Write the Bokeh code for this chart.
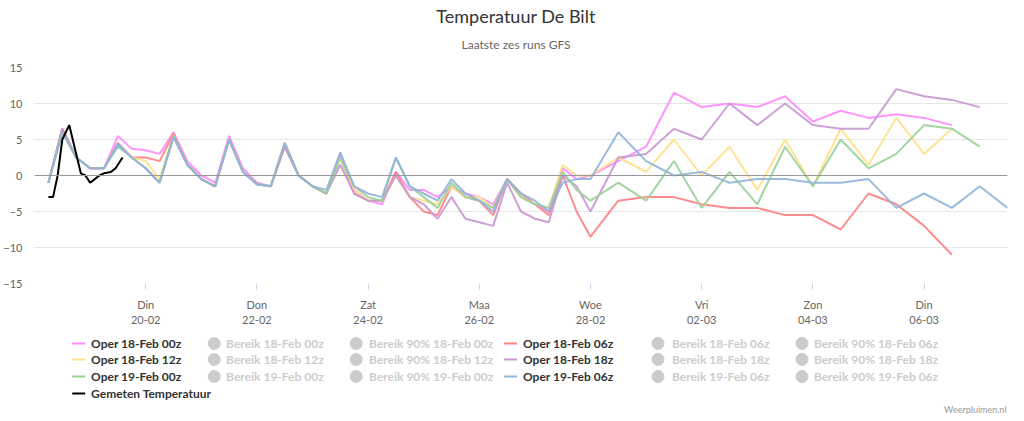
from bokeh.plotting import figure
from bokeh.layouts import column
from bokeh.models import Span, FixedTicker
from bokeh.core.properties import value
from bokeh.embed import file_html
from bokeh.resources import INLINE

# hours since 18-Feb 00:00
t_early = list(range(6, 240, 6))
t_late = list(range(240, 432, 12))

early = {
 "pink":   [-1,6.5,2.5, 1,1,5.5,3.7, 3.5,3,6,2, 0,-1,5.5,1, -1,-1.5,4.5,0, -1.5,-2.5,3,-2, -3.5,-4,0.5,-2, -2,-3,-1.5,-2.5, -3,-4,-0.5,-3, -4,-5,1,-0.5],
 "red":    [-1,6.5,2.5, 1,1,4.5,2.5, 2.5,2,5.8,1.5, -0.5,-1.5,5,0.5, -1.2,-1.5,4,0, -1.5,-2.5,2.5,-2.5, -3.5,-3.5,0.5,-3, -5,-5.5,-1.5,-3, -3.5,-5.5,-0.5,-2.5, -4,-5.5,0,-5],
 "yellow": [-1,6,2.5, 1,1,4.5,2.5, 2,-0.5,5.5,1.5, -0.5,-1.5,5,0.5, -1.2,-1.5,4.5,0, -1.5,-2.5,2.5,-2, -3.5,-3.5,0,-3, -3.5,-4,-1.5,-3, -3,-4.5,-0.5,-3, -4,-4.5,1.5,0],
 "purple": [-1,6.5,2.5, 1,1,4.5,2.5, 1,-1,5.5,1.5, -0.5,-1.5,5,0.5, -1.2,-1.5,4,0, -1.5,-2.5,1.5,-2.5, -3.5,-3.5,0,-3, -4,-6,-3,-6, -6.5,-7,-1,-5, -6,-6.5,0,-1.5],
 "green":  [-1,6,2.5, 1,1,4,2.5, 1,-1,5.5,1.5, -0.5,-1.5,5,0.5, -1.2,-1.5,4.5,0, -1.5,-2.5,2.5,-1.5, -3,-3.5,2.5,-1.5, -3,-4.5,-1,-3, -3.5,-4.5,-0.5,-3, -4,-4.5,0.5,-2],
 "blue":   [-1,6,2.5, 1,1,4.3,2.5, 1,-1,5.3,1.5, -0.5,-1.5,5,0.5, -1.2,-1.5,4.5,0, -1.5,-2,3.2,-1.5, -2.5,-3,2.5,-1.5, -2.5,-3.5,-0.5,-2.5, -3.5,-5,-0.5,-2.5, -3.5,-5,-1,-0.5],
}
late = {
 "pink":   [0,2,4,11.5,9.5,10,9.5,11,7.5,9,8,8.5,8,7],
 "red":    [-8.5,-3.5,-3,-3,-4,-4.5,-4.5,-5.5,-5.5,-7.5,-2.5,-4,-7,-11],
 "yellow": [0,2.5,0.5,5,0,4,-2,5,-1.5,6.5,1.5,8,3,6.5],
 "purple": [-5,2.5,3,6.5,5,10,7,10,7,6.5,6.5,12,11,10.5,9.5],
 "green":  [-3.5,-1,-3.5,2,-4.5,0.5,-4,4,-1.5,5,1,3,7,6.5,4],
 "blue":   [-0.5,6,2,0,0.5,-1,-0.5,-0.5,-1,-1,-0.5,-4.5,-2.5,-4.5,-1.5,-4.5],
}
colors = {"pink": "#ff88ff", "red": "#ff8080", "yellow": "#ffe08a",
          "purple": "#c896d2", "green": "#98d098", "blue": "#90b4dc"}

t_meas = [6, 8, 10, 12, 15, 18, 20, 22, 24, 26, 28, 30, 33, 35, 38]
T_meas = [-3, -3, 0, 5, 7, 3, 0.3, 0, -1, -0.5, 0, 0.3, 0.5, 1, 2.5]

tick_hours = [48, 96, 144, 192, 240, 288, 336, 384]
tick_labels = ["Din\n20-02", "Don\n22-02", "Zat\n24-02", "Maa\n26-02",
               "Woe\n28-02", "Vri\n02-03", "Zon\n04-03", "Din\n06-03"]

FONT = "Lato"
L, R = 27, 1007

def blank(height):
    f = figure(width=1008, height=height, x_range=(L, R), y_range=(height, 0),
               output_backend="svg", toolbar_location=None,
               min_border_left=L, min_border_right=1008 - R, min_border_top=0, min_border_bottom=0)
    f.axis.visible = False; f.grid.visible = False; f.outline_line_color = None
    return f

h = blank(58)
h.text(x=[512], y=[15], text=["Temperatuur De Bilt"], text_align="center", text_baseline="middle",
       text_font=value(FONT), text_font_size="18px", text_color="#333333")
h.text(x=[512], y=[44], text=["Laatste zes runs GFS"], text_align="center", text_baseline="middle",
       text_font=value(FONT), text_font_size="12px", text_color="#666666")

p = figure(width=1008, height=273, x_range=(0, 420), y_range=(-15, 15),
           output_backend="svg", toolbar_location=None,
           min_border_left=L, min_border_right=1008 - R, min_border_top=9, min_border_bottom=48)
p.outline_line_color = None
p.xaxis.ticker = FixedTicker(ticks=tick_hours)
p.xaxis.major_label_overrides = {k: v for k, v in zip(tick_hours, tick_labels)}
p.yaxis.ticker = FixedTicker(ticks=[-15, -10, -5, 0, 5, 10, 15])
for ax in (p.xaxis, p.yaxis):
    ax.axis_line_color = None
    ax.major_label_text_font = FONT
    ax.major_label_text_font_size = "11px"
    ax.major_label_text_color = "#666666"
    ax.minor_tick_line_color = None
p.yaxis.major_tick_line_color = None
p.yaxis.major_label_standoff = 6
p.xaxis.major_tick_line_color = "#ccd6eb"
p.xaxis.major_tick_out = 6
p.xaxis.major_tick_in = 0
p.xaxis.major_label_standoff = 8
p.xgrid.visible = False
p.ygrid.grid_line_color = "#e6e6e6"
p.add_layout(Span(location=0, dimension="width", line_color="#999999", line_width=1))

for k in ["pink", "red", "yellow", "purple", "green", "blue"]:
    xs = t_early + t_late[:len(late[k])]
    ys = early[k] + late[k]
    p.line(xs, ys, line_color=colors[k], line_width=2, line_alpha=0.9)
p.line(t_meas, T_meas, line_color="black", line_width=2)

lg = blank(83)
rows = [12, 28, 45, 62]
col_line = [65, 500]
col_grey = [(208, 220), (351, 364), (655, 669), (800, 812)]
names_left = ["Oper 18-Feb 00z", "Oper 18-Feb 12z", "Oper 19-Feb 00z"]
names_right = ["Oper 18-Feb 06z", "Oper 18-Feb 18z", "Oper 19-Feb 06z"]
runs_left = ["18-Feb 00z", "18-Feb 12z", "19-Feb 00z"]
runs_right = ["18-Feb 06z", "18-Feb 18z", "19-Feb 06z"]
cl = ["pink", "yellow", "green"]
cr = ["red", "purple", "blue"]
for i in range(3):
    y = rows[i]
    for xl, nm, c in ((col_line[0], names_left[i], cl[i]), (col_line[1], names_right[i], cr[i])):
        lg.line([xl, xl + 13], [y, y], line_color=colors[c], line_width=2)
        lg.text([xl + 19], [y], text=[nm], text_baseline="middle", text_font=value(FONT),
                text_font_size="12px", text_font_style="bold", text_color="#333333")
    greys = [("Bereik " + runs_left[i]), ("Bereik 90% " + runs_left[i]),
             ("Bereik " + runs_right[i]), ("Bereik 90% " + runs_right[i])]
    for (cx, tx), g in zip(col_grey, greys):
        lg.scatter([cx], [y], size=12, color="#cccccc")
        lg.text([tx], [y], text=[g], text_baseline="middle", text_font=value(FONT),
                text_font_size="12px", text_font_style="bold", text_color="#cccccc")
lg.line([65, 78], [rows[3], rows[3]], line_color="black", line_width=2)
lg.text([84], [rows[3]], text=["Gemeten Temperatuur"], text_baseline="middle", text_font=value(FONT),
        text_font_size="12px", text_font_style="bold", text_color="#333333")
lg.text([1006], [78], text=["Weerpluimen.nl"], text_align="right", text_baseline="middle",
        text_font=value(FONT), text_font_size="9px", text_color="#999999")

open("out.html", "w").write(file_html(column(h, p, lg, spacing=0), INLINE))
